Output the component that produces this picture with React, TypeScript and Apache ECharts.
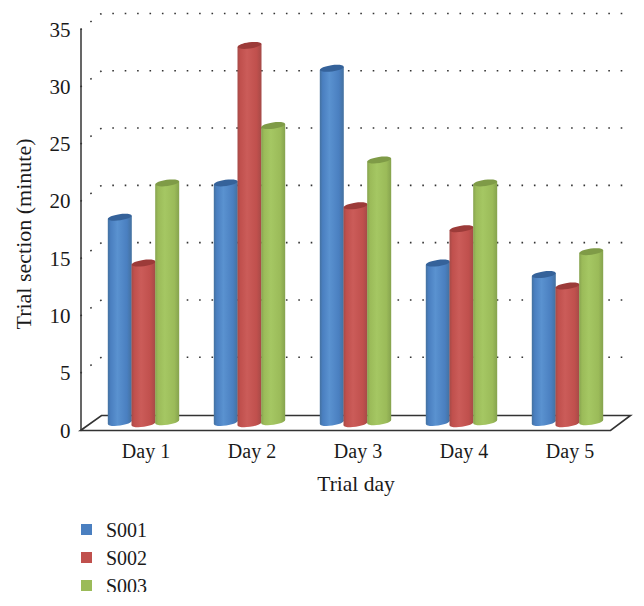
import React, { useEffect, useRef } from "react";
import * as echarts from "echarts";

const categories = ["Day 1", "Day 2", "Day 3", "Day 4", "Day 5"];
const seriesNames = ["S001", "S002", "S003"];
const s001 = [18, 21, 31, 14, 13];
const s002 = [14, 33, 19, 17, 12];
const s003 = [21, 26, 23, 21, 15];
const yTicks = [5, 10, 15, 20, 25, 30, 35];
const FONT = "Liberation Serif";

const palettes = [
  { edge: "#44719F", mid: "#4A7FC0", light: "#5A92D0", top: "#35629A" },
  { edge: "#A54A47", mid: "#C0504D", light: "#CB5C59", top: "#9C3B39" },
  { edge: "#86A34E", mid: "#9BBB59", light: "#A5C763", top: "#7F9B47" },
];

const DX = 21;
const DY = 16;
const AXIS_SHIFT = 12.5;

function bodyFill(p: any) {
  return new echarts.graphic.LinearGradient(0, 0, 1, 0, [
    { offset: 0, color: p.edge },
    { offset: 0.12, color: p.mid },
    { offset: 0.4, color: p.light },
    { offset: 0.8, color: p.mid },
    { offset: 1, color: p.edge },
  ]);
}

function cylinder(idx: number) {
  const p = palettes[idx];
  return (_params: any, api: any) => {
    const cat = api.value(0);
    const val = api.value(1);
    const topPt = api.coord([cat, val]);
    const basePt = api.coord([cat, 0]);
    const cx = topPt[0] - 2.5 + (idx - 1) * 23.7;
    const rx = 12;
    const ry = 3.1;
    const yTop = topPt[1] - 7;
    const yBase = basePt[1] - 8 + (idx === 1 ? 1.2 : idx === 2 ? -0.8 : 0);
    const tilt = 1.6;
    return {
      type: "group",
      children: [
        {
          type: "ellipse",
          x: cx,
          y: yBase,
          rotation: 0.14,
          shape: { cx: 0, cy: 0, rx, ry },
          style: { fill: bodyFill(p) },
        },
        {
          type: "polygon",
          shape: {
            points: [
              [cx - rx, yTop + tilt],
              [cx + rx, yTop - tilt],
              [cx + rx, yBase - tilt],
              [cx - rx, yBase + tilt],
            ],
          },
          style: { fill: bodyFill(p) },
        },
        {
          type: "ellipse",
          x: cx,
          y: yTop,
          rotation: 0.14,
          shape: { cx: 0, cy: 0, rx, ry },
          style: { fill: p.top },
        },
      ],
    };
  };
}

function renderGrid(params: any, api: any) {
  const r = params.coordSys;
  const p = api.coord([0, api.value(0)]);
  const left = r.x - AXIS_SHIFT;
  const right = left + r.width;
  return {
    type: "polyline",
    shape: { points: [[left, p[1]], [left + DX, p[1] - DY], [right + DX, p[1] - DY]] },
    style: { fill: "none", stroke: "#333", lineWidth: 1.6, lineDash: [1.6, 10.8] },
  };
}

function renderFloor(params: any, api: any) {
  const r = params.coordSys;
  const p = api.coord([0, 0]);
  const left = r.x - AXIS_SHIFT;
  const right = left + r.width;
  return {
    type: "polygon",
    shape: {
      points: [[left, p[1]], [left + DX, p[1] - DY + 1], [right + DX - 1, p[1] - DY + 1], [right, p[1]]],
    },
    style: { fill: "none", stroke: "#333", lineWidth: 1.6 },
  };
}

export default function App() {
  const ref = useRef<HTMLDivElement>(null);
  useEffect(() => {
    const chart = echarts.init(ref.current!, undefined, { renderer: "svg" });
    const values = [s001, s002, s003];
    chart.setOption({
      animation: false,
      backgroundColor: "#fff",
      grid: { left: 93, right: 21, top: 29.5, height: 401, containLabel: false, outerBoundsMode: "none" },
      legend: {
        data: seriesNames,
        orient: "vertical",
        left: 81,
        top: 518.5,
        padding: 0,
        itemWidth: 11,
        itemHeight: 11,
        itemGap: 6,
        icon: "rect",
        textStyle: { fontFamily: FONT, fontSize: 20, color: "#1a1a1a", padding: [0, 0, 0, 9], lineHeight: 22 },
      },
      graphic: [
        {
          type: "rect",
          left: 0,
          top: 592,
          z: 1000,
          silent: true,
          shape: { width: 644, height: 14 },
          style: { fill: "#fff" },
        },
      ],
      xAxis: {
        type: "category",
        data: categories,
        axisLine: { show: false },
        axisTick: { show: false },
        axisLabel: { fontFamily: FONT, fontSize: 20, color: "#1a1a1a", margin: 10 },
        name: "Trial day",
        nameLocation: "middle",
        nameGap: 42,
        nameTextStyle: { fontFamily: FONT, fontSize: 21.5, color: "#1a1a1a", padding: [0, 4, 0, 0] },
      },
      yAxis: {
        type: "value",
        min: 0,
        max: 35,
        interval: 5,
        offset: AXIS_SHIFT,
        axisLine: { show: true, lineStyle: { color: "#404040", width: 1.6 } },
        axisTick: { show: false },
        splitLine: { show: false },
        axisLabel: { fontFamily: FONT, fontSize: 21, color: "#1a1a1a", margin: 10, padding: [0, 0, 3, 0] },
        name: "Trial section (minute)",
        nameLocation: "middle",
        nameGap: 38,
        nameTextStyle: { fontFamily: FONT, fontSize: 22, color: "#1a1a1a", padding: [0, 8, 8, 0] },
      },
      series: [
        { type: "custom", name: "walls", silent: true, clip: false, z: 1, data: yTicks.map((v) => [v]), encode: { y: 0 }, renderItem: renderGrid },
        { type: "custom", name: "floor", silent: true, clip: false, z: 2, data: [[0]], encode: { y: 0 }, renderItem: renderFloor },
        ...seriesNames.map((name, i) => ({
          type: "custom",
          name,
          clip: false,
          z: 3 + i,
          itemStyle: { color: palettes[i].mid },
          data: values[i].map((v, c) => [c, v]),
          encode: { x: 0, y: 1 },
          renderItem: cylinder(i),
        })),
      ],
    });
    return () => chart.dispose();
  }, []);
  return <div ref={ref} style={{ position: "absolute", left: 0, top: 0, width: 644, height: 606 }} />;
}
